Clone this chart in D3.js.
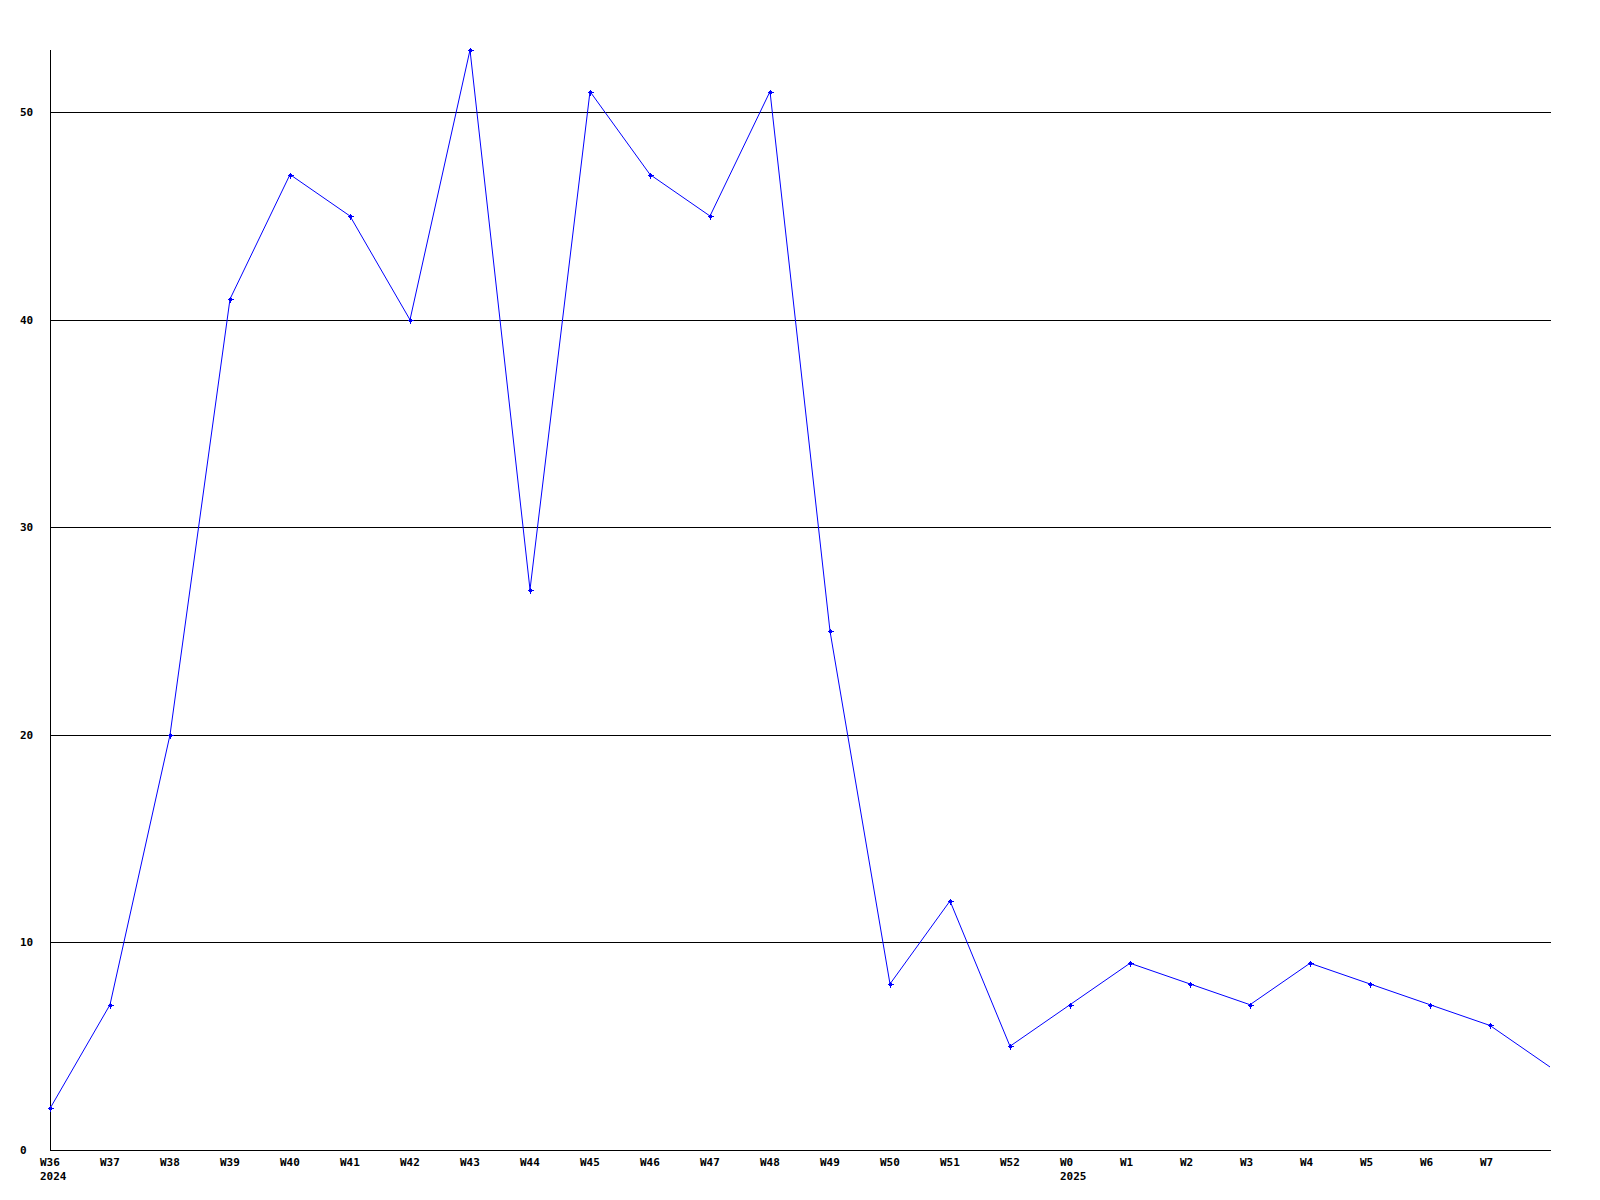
<!DOCTYPE html>
<html>
<head>
<meta charset="utf-8">
<script src="https://cdn.jsdelivr.net/npm/d3@7"></script>
<style>
  html, body { margin: 0; padding: 0; background: #fff; }
  svg { display: block; }
  text { font-family: "DejaVu Sans Mono", monospace; font-weight: bold; font-size: 11px; fill: #000; }
</style>
</head>
<body>
<svg id="chart" width="1600" height="1200"></svg>
<script>
const categories = ["W36","W37","W38","W39","W40","W41","W42","W43","W44","W45","W46","W47","W48","W49","W50","W51","W52","W0","W1","W2","W3","W4","W5","W6","W7","W8"];
const values = [2,7,20,41,47,45,40,53,27,51,47,45,51,25,8,12,5,7,9,8,7,9,8,7,6,4];
const yearLabels = [{cat: "W36", year: "2024"}, {cat: "W0", year: "2025"}];
const yTicks = [0,10,20,30,40,50];
const xLabelCount = 25; // last point (W8) has no label and no marker

(function () {
const svg = d3.select("#chart");
const mLeft = 50, mRight = 1550, mTop = 50, mBottom = 1150;

const x = d3.scalePoint().domain(categories).range([mLeft, mRight]);
const y = d3.scaleLinear().domain([0, 53]).range([mBottom, mTop]);

// gridlines
svg.append("g").selectAll("line").data(yTicks.filter(d => d > 0)).join("line")
  .attr("x1", mLeft).attr("x2", mRight + 1)
  .attr("y1", d => Math.round(y(d)) + 0.5).attr("y2", d => Math.round(y(d)) + 0.5)
  .attr("stroke", "#000").attr("stroke-width", 1).attr("shape-rendering", "crispEdges");

// axes lines
svg.append("line").attr("x1", mLeft + 0.5).attr("x2", mLeft + 0.5).attr("y1", mTop).attr("y2", mBottom + 1)
  .attr("stroke", "#000").attr("shape-rendering", "crispEdges");
svg.append("line").attr("x1", mLeft).attr("x2", mRight + 1).attr("y1", mBottom + 0.5).attr("y2", mBottom + 0.5)
  .attr("stroke", "#000").attr("shape-rendering", "crispEdges");

// y tick labels
svg.append("g").selectAll("text").data(yTicks).join("text")
  .attr("x", 20).attr("y", d => Math.round(y(d)) + 4)
  .text(d => d);

// x tick labels
svg.append("g").selectAll("text").data(categories.slice(0, xLabelCount)).join("text")
  .attr("x", d => x(d) - 10).attr("y", 1166)
  .text(d => d);

svg.append("g").selectAll("text").data(yearLabels).join("text")
  .attr("x", d => x(d.cat) - 10).attr("y", 1180)
  .text(d => d.year);

// line
const line = d3.line().x((d, i) => x(categories[i])).y(d => y(d));
svg.append("path").datum(values)
  .attr("d", line).attr("fill", "none").attr("stroke", "#0000ff").attr("stroke-width", 1);

// markers
const mk = svg.append("g").selectAll("g").data(values.slice(0, xLabelCount)).join("g")
  .attr("transform", (d, i) => `translate(${Math.round(x(categories[i]))},${Math.round(y(d))})`);
mk.append("path").attr("d", "M-2.5,0.5H3.5M0.5,-2.5V3.5")
  .attr("stroke", "#0000ff").attr("stroke-width", 1).attr("shape-rendering", "crispEdges");
mk.append("rect").attr("x", -1).attr("y", -1).attr("width", 3).attr("height", 3).attr("fill", "#0000ff");
})();
</script>
</body>
</html>
